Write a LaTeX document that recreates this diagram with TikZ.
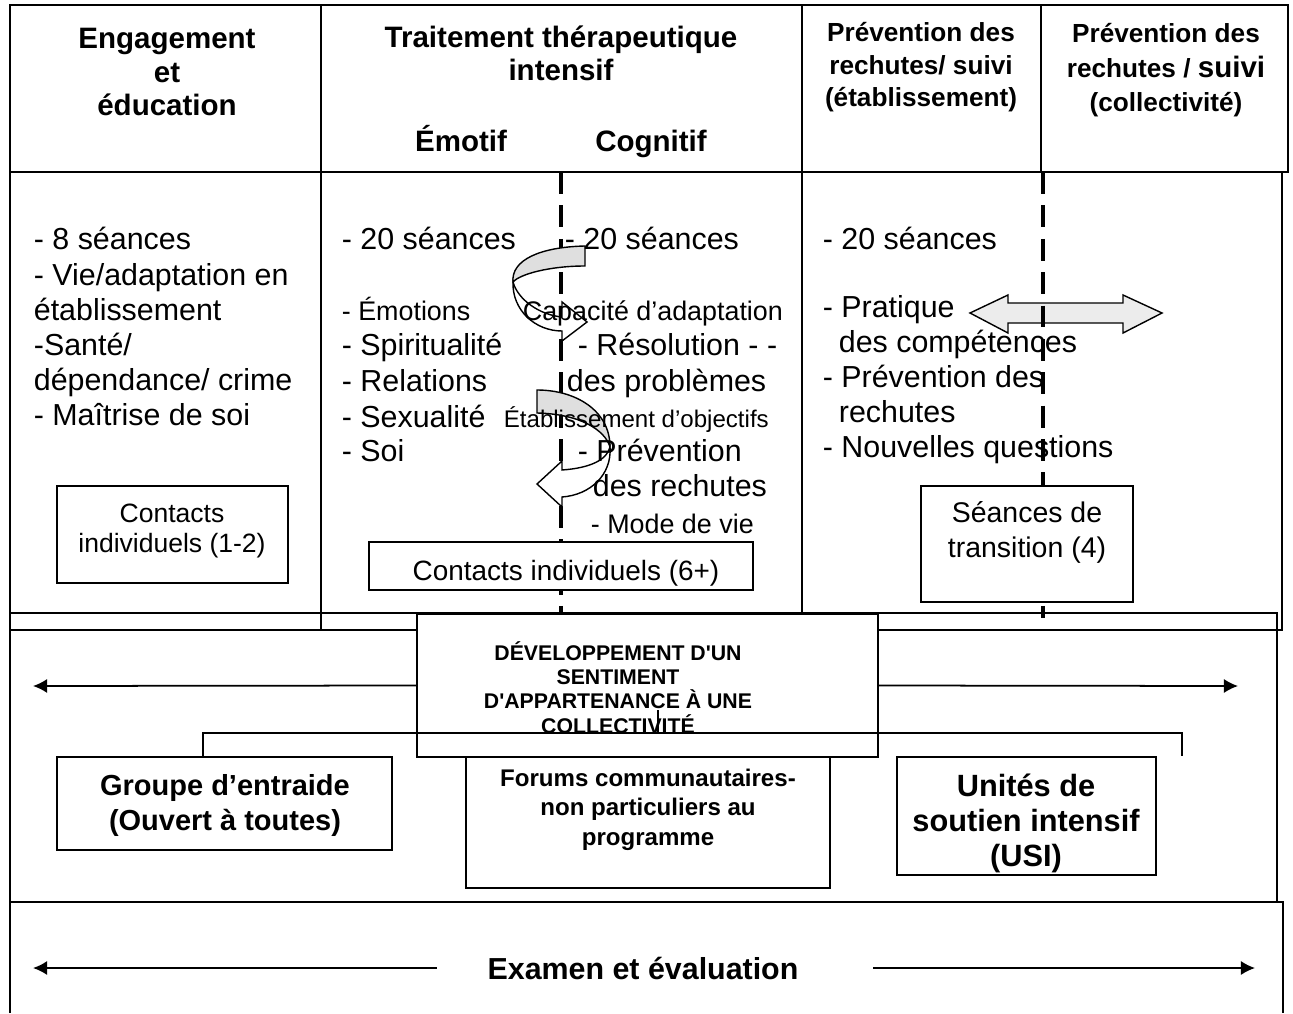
\documentclass[tikz,border=0pt]{standalone}
\usepackage{fontspec}
\setmainfont{Liberation Sans}[Ligatures=TeXOff]
\usetikzlibrary{arrows.meta}

\newcommand{\fs}[2]{\fontsize{#1}{#2}\selectfont}

\begin{document}
\begin{tikzpicture}[x=0.02cm, y=-0.02cm, line width=1pt,
  item/.style={inner sep=0pt, anchor=base west, font=\fs{17.3}{19.8}},
  itemsm/.style={item, font=\fs{15.3}{17}},
  title/.style={inner sep=0pt, anchor=base, align=center, font=\bfseries\fs{16.8}{19.3}},
  subtitle/.style={title, font=\bfseries\fs{14.9}{18.7}},
  boxtext/.style={inner sep=0pt, anchor=base, align=center},
  box/.style={draw, fill=white, inner sep=0pt},
  split/.style={line width=2.8pt, dash pattern=on 12.5pt off 6.5pt},
  tip/.style={-{Latex[length=8pt,width=8pt]}},
  band/.style={draw, line width=0.8pt}]
  \useasboundingbox (0,0) rectangle (1293,1013);

  % frame
  \draw (10,5) rectangle (1288,172);
  \draw (321,5) -- (321,630) (802,5) -- (802,630) (1041,5) -- (1041,172);
  \draw (10,172) rectangle (1282,630);
  \draw (10,613) rectangle (1277,902);
  \draw (10,1013) |- (1283,902) -- (1283,1013);

  % double arrow
  \filldraw[band, fill=gray!15] (970,313) -- (1008,295) -- (1008,303) -- (1123,303)
    -- (1123,295) -- (1162,313) -- (1123,333) -- (1123,323) -- (1008,323)
    -- (1008,333) -- cycle;

  % split lines
  \draw[split] (561,172) -- (561,614);
  \draw[split] (1043,172) -- (1043,618);

  % curved arrows
  \filldraw[band, fill=gray!25] (585,246) .. controls (540,247) and (511,260) .. (513,282)
    .. controls (520,274) and (550,266) .. (585,266) -- cycle;
  \filldraw[band, fill=white] (513,282) .. controls (512,310) and (535,331) .. (562,331)
    -- (562,341) -- (587,322) -- (562,302) -- (562,317)
    .. controls (540,315) and (518,300) .. (513,282) -- cycle;
  \filldraw[band, fill=gray!25] (537,390) .. controls (575,390) and (610,410) .. (610,447)
    .. controls (605,430) and (580,414) .. (537,413) -- cycle;
  \filldraw[band, fill=white] (610,447) .. controls (612,475) and (590,495) .. (562,497)
    -- (562,507) -- (537,484) -- (562,461) -- (562,470)
    .. controls (590,468) and (607,460) .. (610,447) -- cycle;

  % headings (base = last line)
  \node[title] (eng) at (167,116) {Engagement\\ et\\ éducation};
  \node[title] (trt) at (561,81) {Traitement thérapeutique\\ intensif};
  \node[title] (emo) at (461,152) {Émotif};
  \node[title] (cog) at (651,152) {Cognitif};
  \node[subtitle] (prev) at (921,107) {Prévention des\\ rechutes/ suivi\\ (établissement)};
  \node[subtitle, font=\bfseries\fs{14.9}{19.8}] (coll) at (1166,112)
    {Prévention des\\ rechutes / {\fs{16.8}{19.8}suivi}\\ (collectivité)};

  % lists
  \foreach \t [count=\i] in {- 8 séances, - Vie/adaptation en, établissement,
      -Santé/, dépendance/ crime, - Maîtrise de soi}
    \node[item] (e\i) at (33,{215+35*\i}) {\t};
  \node[item] (emo0) at (341,250) {- 20 séances};
  \node[itemsm] (emo1) at (341,320) {- Émotions};
  \foreach \t/\y [count=\i from 2] in {- Spiritualité/355, - Relations/391,
      - Sexualité/427, - Soi/461}
    \node[item] (emo\i) at (341,\y) {\t};
  \node[item] (cog0) at (564,250) {- 20 séances};
  \node[itemsm] (cog1) at (522,320) {Capacité d’adaptation};
  \node[item] (cog2) at (577,355) {- Résolution - -};
  \node[item] (cog3) at (566,391) {des problèmes};
  \node[item, font=\fs{13.7}{16}] (cog4) at (503,427) {Établissement d’objectifs};
  \node[item] (cog5) at (577,461) {- Prévention};
  \node[item] (cog6) at (592,496) {des rechutes};
  \node[itemsm] (cog7) at (590,533) {- Mode de vie};
  \node[item] (p0) at (822,250) {- 20 séances};
  \node[item] (p1) at (822,317) {- Pratique};
  \node[item] (p2) at (838,352) {des compétences};
  \node[item] (p3) at (822,387) {- Prévention des};
  \node[item] (p4) at (838,422) {rechutes};
  \node[item] (p5) at (822,457) {- Nouvelles questions};

  % boxes
  \node[box, minimum width=4.62cm, minimum height=1.94cm] (ind1) at (172.5,534.5) {};
  \node[boxtext, font=\fs{15.1}{17}] (ind1t) at (172,552) {Contacts\\ individuels (1-2)};
  \node[box, minimum width=7.68cm, minimum height=0.96cm] (ind6) at (561,566) {};
  \node[boxtext, font=\fs{15.9}{17}] (ind6t) at (566,580) {Contacts individuels (6+)};
  \node[box, minimum width=4.24cm, minimum height=2.32cm] (trans) at (1027,544) {};
  \node[boxtext, font=\fs{16.2}{19.8}] (transt) at (1027,557) {Séances de\\ transition (4)};
  \node[box, minimum width=9.22cm, minimum height=2.86cm] (dev) at (647.5,685.5) {};
  \node[boxtext, font=\bfseries\fs{12.1}{13.8}] (devt) at (618,733)
    {DÉVELOPPEMENT D'UN\\ SENTIMENT\\ D'APPARTENANCE À UNE\\ COLLECTIVITÉ};
  \node[box, minimum width=6.7cm, minimum height=1.86cm] (groupe) at (224.5,803.5) {};
  \node[boxtext, font=\bfseries\fs{16.5}{19.8}] (groupet) at (225,830)
    {Groupe d’entraide\\ (Ouvert à toutes)};
  \node[box, minimum width=7.28cm, minimum height=2.62cm] (forums) at (648,822.5) {};
  \node[boxtext, font=\bfseries\fs{13.7}{16.7}] (forumst) at (648,845)
    {Forums communautaires-\\ non particuliers au\\ programme};
  \node[box, minimum width=5.18cm, minimum height=2.36cm] (unites) at (1026.5,816) {};
  \node[boxtext, font=\bfseries\fs{17.5}{19.8}] (unitest) at (1026,866)
    {Unités de\\ soutien intensif\\ (USI)};
  \node[inner sep=0pt, inner xsep=1cm, font=\bfseries\fs{17.3}{20}] (exam) at (643,968)
    {Examen et évaluation};

  % connectors
  \coordinate (hub) at (658,733);
  \draw (hub) -- ++(0,-23);
  \draw ([xshift=-0.43cm]groupe.north) |- (hub) -| ([xshift=3.11cm]unites.north);
  \coordinate (devl) at (33,686);
  \coordinate (devr) at (1238,686);
  \draw[tip] (dev.west) -- (devl);
  \draw[tip] (dev.east) -- (devr);
  \coordinate (exl) at (33,968);
  \coordinate (exr) at (1255,968);
  \draw[tip] (exam.west) -- (exl);
  \draw[tip] ([xshift=0.48cm]exam.east) -- (exr);
\end{tikzpicture}
\end{document}
